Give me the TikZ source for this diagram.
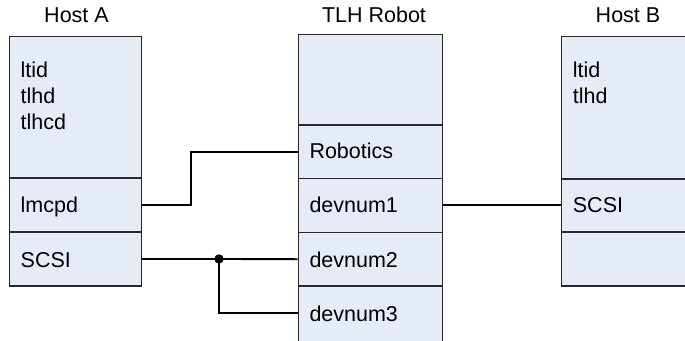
\documentclass[tikz,border=0pt]{standalone}
\usepackage{fontspec}
\setmainfont{Liberation Sans}
\definecolor{cellfill}{RGB}{230,236,247}
\definecolor{cellline}{RGB}{40,40,40}
\begin{document}
\begin{tikzpicture}[x=1pt,y=-1pt,
  cell/.style={draw=cellline, fill=cellfill, line width=1.3pt, inner sep=0pt},
  txt/.style={anchor=base west, inner sep=0pt, font=\fontsize{21.5}{26}\selectfont, text=black},
  ttl/.style={anchor=base, inner sep=0pt, font=\fontsize{21.5}{26}\selectfont, text=black},
  wire/.style={draw=black, line width=1.8pt}]
\clip (0,0) rectangle (685,340);
\fill[white] (0,0) rectangle (685,340);
% Host A
\node[cell, minimum width=132pt, minimum height=141.5pt] (atop) at (75.5,107.25) {};
\node[cell, minimum width=132pt, minimum height=54pt] (almcpd) at (75.5,205) {};
\node[cell, minimum width=132pt, minimum height=54pt] (ascsi) at (75.5,259) {};
\node[ttl] (ta) at (76.5,23) {Host A};
\node[txt] (a1) at (20.5,77) {ltid};
\node[txt] (a2) at (20.5,103) {tlhd};
\node[txt] (a3) at (20.5,129) {tlhcd};
\node[txt] (a4) at (20.5,212) {lmcpd};
\node[txt] (a5) at (20.5,267) {SCSI};
% TLH Robot
\node[cell, minimum width=144.4pt, minimum height=90.3pt] (rtop) at (370.5,79.85) {};
\node[cell, minimum width=144.4pt, minimum height=53.3pt] (rrob) at (370.5,151.65) {};
\node[cell, minimum width=144.4pt, minimum height=54pt] (rd1) at (370.5,205.3) {};
\node[cell, minimum width=144.4pt, minimum height=53.7pt] (rd2) at (370.5,259.15) {};
\node[cell, minimum width=144.4pt, minimum height=62pt] (rd3) at (370.5,317) {};
\node[ttl] (tr) at (374,23) {TLH Robot};
\node[txt] (r1) at (309.3,158) {Robotics};
\node[txt] (r2) at (309.3,212) {devnum1};
\node[txt] (r3) at (309.3,267) {devnum2};
\node[txt] (r4) at (309.3,321) {devnum3};
% Host B
\node[cell, minimum width=140pt, minimum height=142.3pt] (btop) at (631.3,107.85) {};
\node[cell, minimum width=140pt, minimum height=53pt] (bscsi) at (631.3,205.5) {};
\node[cell, minimum width=140pt, minimum height=54pt] (bbot) at (631.3,259) {};
\node[ttl] (tb) at (628,23) {Host B};
\node[txt] (b1) at (572.7,77) {ltid};
\node[txt] (b2) at (572.7,103) {tlhd};
\node[txt] (b3) at (572.7,212) {SCSI};
% connectors
\draw[wire] (almcpd.east) -- ++(48.5,0) |- (rrob.west);
\draw[wire] (rd1.east) -- (rd1.east -| bscsi.west);
\coordinate (j) at (219,259);
\draw[wire] (ascsi.east) -- (rd2.west);
\draw[wire] (j) |- (rd3.west |- 0,313);
\fill (j) circle (4.7pt);
\end{tikzpicture}
\end{document}
